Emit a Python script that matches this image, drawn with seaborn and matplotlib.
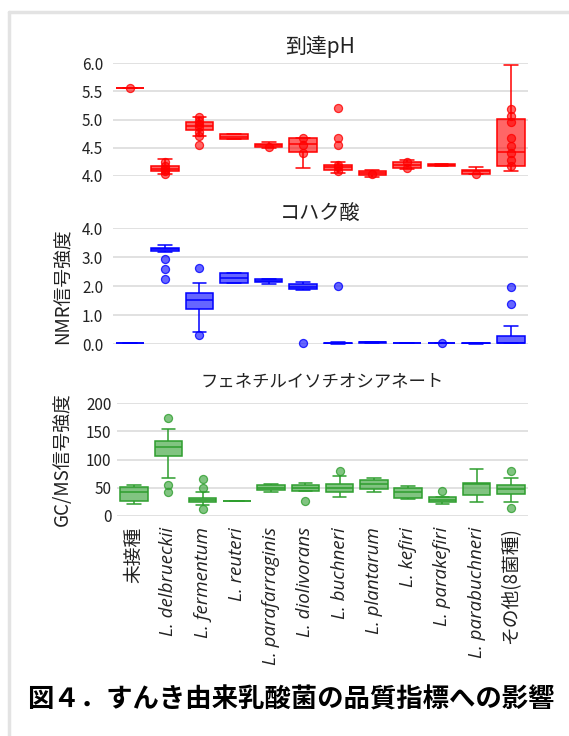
import numpy as np
import pandas as pd
import matplotlib
matplotlib.use('Agg')
import matplotlib.pyplot as plt
import seaborn as sns
from matplotlib.colors import to_rgba
from matplotlib.lines import Line2D

strains = ['未接種', 'L. delbrueckii', 'L. fermentum', 'L. reuteri', 'L. parafarraginis',
           'L. diolivorans', 'L. buchneri', 'L. plantarum', 'L. kefiri', 'L. parakefiri',
           'L. parabuchneri', 'その他(8菌種)']

# 到達pH : whisker low, Q1, median, Q3, whisker high + plotted points
ph_lo  = [5.56, 4.03, 4.70, 4.65, 4.50, 4.15, 4.06, 3.98, 4.13, 4.17, 4.04, 4.08]
ph_q1  = [5.56, 4.08, 4.82, 4.65, 4.51, 4.43, 4.11, 4.02, 4.14, 4.17, 4.04, 4.18]
ph_med = [5.56, 4.13, 4.89, 4.69, 4.54, 4.56, 4.16, 4.05, 4.20, 4.20, 4.08, 4.42]
ph_q3  = [5.56, 4.18, 4.95, 4.74, 4.57, 4.67, 4.20, 4.08, 4.25, 4.22, 4.11, 5.01]
ph_hi  = [5.56, 4.30, 5.04, 4.74, 4.60, 4.67, 4.24, 4.10, 4.28, 4.22, 4.16, 5.96]
ph_pts = [[5.56], [4.04, 4.08, 4.13, 4.18, 4.24], [4.54, 4.70, 4.78, 4.86, 4.92, 4.98, 5.04],
          [], [4.52], [4.40, 4.55, 4.67], [4.08, 4.16, 4.20, 4.54, 4.67, 5.21], [4.04],
          [4.14, 4.25], [], [4.04], [4.18, 4.29, 4.41, 4.53, 4.68, 4.95, 5.07, 5.18]]

# コハク酸 (NMR)
nmr_lo  = [0.02, 3.17, 0.40, 2.10, 2.07, 1.86, 0.00, 0.05, 0.02, 0.02, 0.01, 0.02]
nmr_q1  = [0.02, 3.20, 1.20, 2.10, 2.13, 1.88, 0.01, 0.05, 0.02, 0.02, 0.01, 0.03]
nmr_med = [0.02, 3.26, 1.51, 2.28, 2.18, 1.95, 0.02, 0.06, 0.03, 0.03, 0.02, 0.05]
nmr_q3  = [0.02, 3.32, 1.75, 2.44, 2.24, 2.08, 0.04, 0.07, 0.03, 0.03, 0.03, 0.27]
nmr_hi  = [0.02, 3.40, 2.10, 2.44, 2.25, 2.15, 0.06, 0.07, 0.04, 0.04, 0.03, 0.62]
nmr_pts = [[], [2.25, 2.60, 2.93], [0.30, 2.63], [], [], [0.03], [2.01], [], [], [0.02], [],
           [1.38, 1.97]]

# フェネチルイソチオシアネート (GC/MS)
gc_lo  = [22, 68, 19, 27, 42, 45, 34, 43, 30, 22, 25, 24]
gc_q1  = [26, 106, 24, 27, 46, 45, 43, 47, 32, 25, 38, 39]
gc_med = [43, 123, 28, 27, 50, 50, 50, 57, 42, 29, 56, 47]
gc_q3  = [52, 133, 32, 27, 54, 55, 56, 64, 50, 33, 58, 54]
gc_hi  = [54, 154, 42, 27, 56, 58, 70, 67, 53, 33, 83, 68]
gc_pts = [[], [43, 55, 174], [12, 50, 66], [], [], [26], [80], [], [], [44], [], [14, 80]]

JP = ['Noto Sans CJK JP', 'DejaVu Sans']


def box_table(lo, q1, med, q3, hi):
    # five values per strain -> seaborn reproduces exactly these quartiles/whiskers
    rows = []
    for name, *vals in zip(strains, lo, q1, med, q3, hi):
        rows += [(name, v) for v in vals]
    return pd.DataFrame(rows, columns=['strain', 'value'])


def point_table(pts):
    rows = [(name, v) for name, vals in zip(strains, pts) for v in vals]
    return pd.DataFrame(rows, columns=['strain', 'value'])


def draw_panel(ax, box_df, pts_df, color, title, title_size, title_pad,
               ylim, yticks, fmt, ylabel=None, label_x=-0.095):
    sns.boxplot(data=box_df, x='strain', y='value', order=strains, whis=(0, 100),
                width=0.8, color=color, linecolor=color, linewidth=1.1, saturation=1,
                showfliers=False, ax=ax)
    for p in ax.patches:
        p.set_facecolor(to_rgba(color, 0.6))
        p.set_edgecolor(color)
    sns.stripplot(data=pts_df, x='strain', y='value', order=strains, jitter=False,
                  size=5.8, ax=ax, zorder=5)
    for c in ax.collections:
        c.set_facecolor(to_rgba(color, 0.6))
        c.set_edgecolor(to_rgba(color, 0.8))
        c.set_linewidth(0.9)
        c.set_clip_on(False)
    for ln in ax.lines:
        ln.set_clip_on(False)
    ax.set_xlim(-0.5, len(strains) - 0.5)
    ax.set_ylim(*ylim)
    ax.set_yticks(yticks)
    ax.set_yticklabels([fmt.format(t) for t in yticks])
    ax.grid(axis='y', color='#dcdcdc', linewidth=1.2)
    ax.grid(axis='x', visible=False)
    ax.set_axisbelow(True)
    for s in ax.spines.values():
        s.set_visible(False)
    ax.tick_params(axis='both', length=0)
    ax.tick_params(axis='y', pad=7, labelsize=11, labelcolor='#222222')
    ax.set_xlabel('')
    ax.set_title(title, fontsize=title_size, family=JP, color='#222222', pad=title_pad)
    if ylabel:
        ax.set_ylabel(ylabel, fontsize=13.5, family=JP, color='#222222')
        ax.yaxis.set_label_coords(label_x, 0.5)
    else:
        ax.set_ylabel('')


sns.set_theme(style='white')
plt.rcParams['font.family'] = JP

W, H = 569, 736
fig = plt.figure(figsize=(W / 100, H / 100), dpi=100)
fig.patch.set_facecolor('white')

ax1 = fig.add_axes([113 / W, 1 - 176 / H, 415 / W, 113 / H])
ax2 = fig.add_axes([113 / W, 1 - 344 / H, 415 / W, 116 / H])
ax3 = fig.add_axes([117 / W, 1 - 516 / H, 411 / W, 113 / H])

draw_panel(ax1, box_table(ph_lo, ph_q1, ph_med, ph_q3, ph_hi), point_table(ph_pts), 'red',
           '到達pH', 15, 7, (4.0, 6.0), [4.0, 4.5, 5.0, 5.5, 6.0], '{:.1f}')
draw_panel(ax2, box_table(nmr_lo, nmr_q1, nmr_med, nmr_q3, nmr_hi), point_table(nmr_pts),
           '#0000ff', 'コハク酸', 14.5, 6, (0.0, 4.0), [0.0, 1.0, 2.0, 3.0, 4.0], '{:.1f}',
           'NMR信号強度', -0.097)
draw_panel(ax3, box_table(gc_lo, gc_q1, gc_med, gc_q3, gc_hi), point_table(gc_pts), '#2e9e2e',
           'フェネチルイソチオシアネート', 12.5, 12, (0, 200), [0, 50, 100, 150, 200], '{:.0f}',
           'GC/MS信号強度', -0.108)
ax3.tick_params(axis='y', pad=4)

for ax in (ax1, ax2):
    ax.set_xticklabels([])

ax3.set_xticks(range(len(strains)))
ax3.set_xticklabels(strains, rotation=90, ha='center', va='top', fontsize=13.5, color='#222222')
ax3.tick_params(axis='x', pad=8)
for lbl in ax3.get_xticklabels():
    if lbl.get_text().startswith('L.'):
        lbl.set_fontstyle('italic')
        lbl.set_family(['Open Sans', 'DejaVu Sans'])

fig.text(291 / W, 1 - 700 / H, '図４．すんき由来乳酸菌の品質指標への影響', ha='center', va='center',
         fontsize=19, fontweight='bold', family=JP, color='black')

# light frame at the left/top edges
fig.add_artist(Line2D([9 / W, 9 / W], [0, 1 - 12 / H], color='#e3e3e3', lw=2.5,
                      transform=fig.transFigure))
fig.add_artist(Line2D([9 / W, 1], [1 - 12 / H, 1 - 12 / H], color='#e3e3e3', lw=2.5,
                      transform=fig.transFigure))

fig.savefig('out.png', dpi=100)
